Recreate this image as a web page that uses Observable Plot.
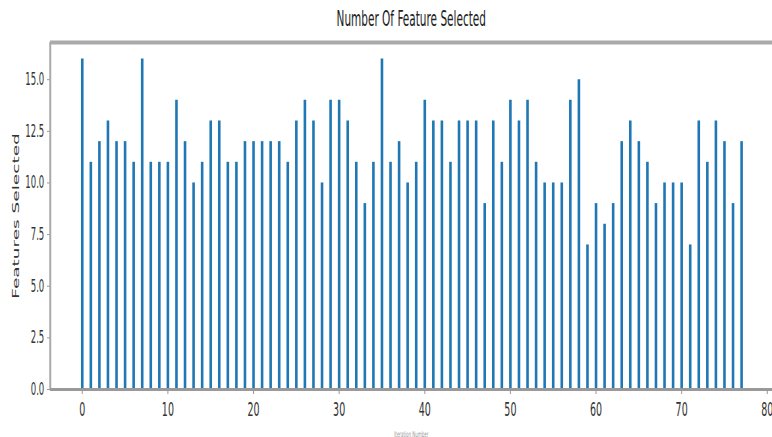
<!DOCTYPE html>
<html>
<head>
<meta charset="utf-8">
<script src="https://cdn.jsdelivr.net/npm/d3@7"></script>
<script src="https://cdn.jsdelivr.net/npm/@observablehq/plot@0.6"></script>
<style>
  html, body { margin: 0; padding: 0; background: #fff; overflow: hidden; }
  #chart { width: 772px; height: 437px; overflow: hidden; }
</style>
</head>
<body>
<div id="chart"></div>
<script>
const title = "Number Of Feature Selected";
const yLabel = "Features Selected";
const xLabel = "Iteration Number";
const featuresSelected = [
  16, 11, 12, 13, 12, 12, 11, 16, 11, 11,
  11, 14, 12, 10, 11, 13, 13, 11, 11, 12,
  12, 12, 12, 12, 11, 13, 14, 13, 10, 14,
  14, 13, 11, 9, 11, 16, 11, 12, 10, 11,
  14, 13, 13, 11, 13, 13, 13, 9, 13, 11,
  14, 13, 14, 11, 10, 10, 10, 14, 15, 7,
  9, 8, 9, 12, 13, 12, 11, 9, 10, 10,
  10, 7, 13, 11, 13, 12, 9, 12
];
const xTicks = [0, 10, 20, 30, 40, 50, 60, 70, 80];
const yTicks = [0, 2.5, 5, 7.5, 10, 12.5, 15];

const data = featuresSelected.map((v, i) => ({iteration: i, value: v}));

const W = 772, H = 437, S = 0.5;   // horizontal squash of the original figure
const PW = W / S;
const xDomain = [-3.74, 80.58];
const yDomain = [0, 16.8];

const chart = Plot.plot({
  width: PW,
  height: H,
  marginLeft: 50 / S,
  marginRight: 0,
  marginTop: 42,
  marginBottom: 48,
  x: {domain: xDomain},
  y: {domain: yDomain},
  style: {fontFamily: "DejaVu Sans", fontSize: "18px", color: "#333", background: "#fff"},
  marks: [
    Plot.ruleX(data, {x: "iteration", y1: 0, y2: "value", stroke: "#1f77b4", strokeWidth: 2.6 / S}),
    Plot.axisY(yTicks, {tickFormat: d => d.toFixed(1), tickSize: 3 / S, tickPadding: 3 / S, label: null, stroke: "#777", fontSize: 17}),
    Plot.axisX(xTicks, {tickSize: 5, tickPadding: 8, label: null, stroke: "#777", fontSize: 19}),
    Plot.ruleX([xDomain[0]], {stroke: "#aaa", strokeWidth: 2 / S}),
    Plot.ruleY([0], {stroke: "#999", strokeWidth: 3}),
    Plot.ruleY([yDomain[1]], {stroke: "#aaa", strokeWidth: 4}),
    Plot.text([title], {frameAnchor: "top", dy: -23, lineAnchor: "middle", fontSize: 21, fill: "#222"}),
    Plot.text([yLabel], {frameAnchor: "left", dx: -34 / S, rotate: -90, textAnchor: "middle", lineAnchor: "middle", fontSize: 18.5, fill: "#333"}),
    Plot.text([xLabel], {frameAnchor: "bottom", dy: 47, lineAnchor: "bottom", fontSize: 8, fill: "#999"})
  ]
});

chart.setAttribute("width", W);
chart.setAttribute("height", H);
chart.setAttribute("preserveAspectRatio", "none");
chart.style.width = W + "px";
chart.style.height = H + "px";
chart.style.maxWidth = "none";
document.getElementById("chart").appendChild(chart);
</script>
</body>
</html>
